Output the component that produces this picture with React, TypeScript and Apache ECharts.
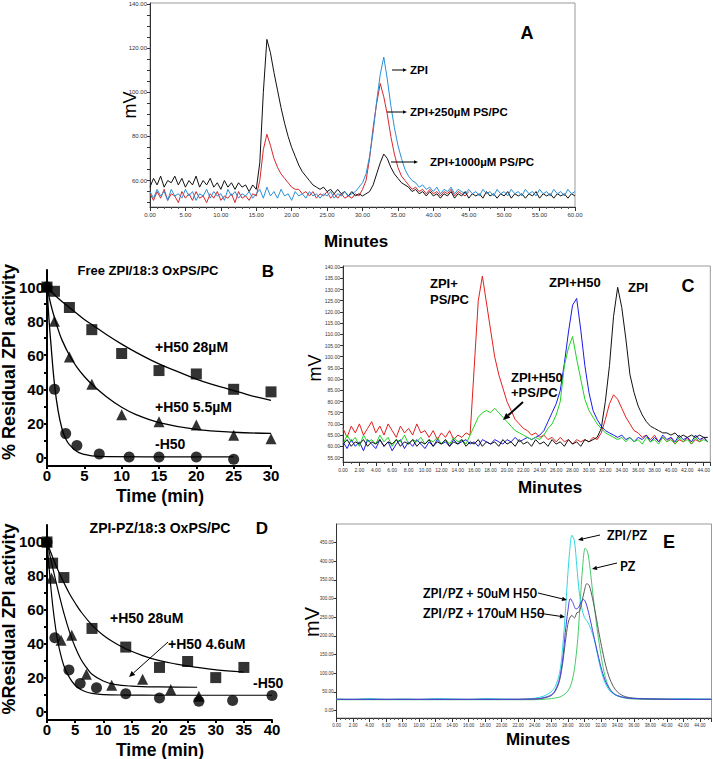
import React, { useEffect, useRef } from "react";
import * as echarts from "echarts";

// ---------- Panel A (HPLC, mV vs minutes) ----------
const A_TIME = [0,0.5,1,1.5,2,2.5,3,3.5,4,4.5,5,5.5,6,6.5,7,7.5,8,8.5,9,9.5,10,10.5,11,11.5,12,12.5,13,13.5,14,14.5,15,15.5,16,16.5,17,17.5,18,18.5,19,19.5,20,20.5,21,21.5,22,22.5,23,23.5,24,24.5,25,25.5,26,26.5,27,27.5,28,28.5,29,29.5,30,30.5,31,31.5,32,32.5,33,33.5,34,34.5,35,35.5,36,36.5,37,37.5,38,38.5,39,39.5,40,40.5,41,41.5,42,42.5,43,43.5,44,44.5,45,45.5,46,46.5,47,47.5,48,48.5,49,49.5,50,50.5,51,51.5,52,52.5,53,53.5,54,54.5,55,55.5,56,56.5,57,57.5,58,58.5,59,59.5,60];
const A_BLACK = [57,61,58,62,57,60,59,62,58,61,57,60,58,62,57,60,58,61,57,59,56,60,57,59,56,59,57,58,55,58,56,
  68,100,124,118,109,101,93,86,80,75,71,67,64,62,60,58,57,56,57,55,56,54,56,54,55,53,55,53,54,53,
  54,55,58,63,68,72,70,66,63,61,59,58,57,55,56,54,55,53,55,53,54,52,54,53,55,52,54,53,55,52,
  54,53,54,52,55,53,54,52,54,53,55,52,54,53,54,52,54,53,55,52,54,53,54,52,54,53,54,52,54,53];
const A_RED = [54,51,55,52,56,51,54,53,50,55,52,54,51,55,52,53,50,54,52,55,51,53,52,54,50,55,52,53,51,54,53,
  60,74,81,76,70,66,63,61,59,57,56,56,54,55,53,55,52,54,53,55,52,54,52,54,52,53,52,54,53,56,
  60,70,84,95,104,98,90,80,72,66,62,60,58,56,57,55,56,54,56,54,55,53,55,54,56,53,55,54,53,55];
const A_BLUE = [55,52,56,53,55,51,56,53,54,52,56,53,55,51,54,53,56,52,55,53,54,51,56,53,55,52,54,53,55,52,54,
  56,52,57,53,55,52,56,53,54,51,55,53,54,52,55,53,54,52,54,53,55,52,54,53,55,53,54,55,57,59,
  63,71,82,96,108,116,106,94,84,76,70,65,62,60,59,57,58,56,57,55,57,54,56,55,57,54,56,55,54,56,
  54,55,53,56,54,55,53,56,54,55,53,56,54,55,53,56,54,55,53,56,54,55,53,56,54,55,53,56,54,55];
const A_Y_LABELS = [60, 80, 100, 120, 140];
const A_Y_TICKS = [50,55,60,65,70,75,80,85,90,95,100,105,110,115,120,125,130,135,140];

// ---------- Panel B (Free ZPI) ----------
const B_SQ_T = [0, 1, 3, 6, 10, 15, 20, 25, 30];
const B_SQ_V = [100, 97.5, 88, 75, 61, 51, 49, 40, 38.5];
const B_TRI_T = [0, 1, 3, 6, 10, 15, 20, 25, 30];
const B_TRI_V = [100, 80, 59, 43, 25, 21, 19, 13, 11];
const B_CIR_T = [0, 1, 2.5, 4, 7, 11, 15, 20, 25];
const B_CIR_V = [100, 40, 14, 7, 2, 0.3, 0.3, 0.3, -1];
const B_FIT_SQ_T = [0, 1, 2, 3, 4, 5, 6, 8, 10, 12, 14, 16, 18, 20, 22, 24, 26, 28, 30];
const B_FIT_SQ_V = [100, 95.5, 91.5, 88, 84.5, 81, 78, 72, 66.5, 61.5, 57, 53, 49.5, 46, 43, 40.5, 38, 35.5, 33.5];
const B_FIT_TRI_T = [0, 0.5, 1, 1.5, 2, 3, 4, 5, 6, 8, 10, 12, 15, 20, 25, 30];
const B_FIT_TRI_V = [100, 90, 82, 75, 69, 60, 53, 47.5, 43, 35.5, 29.5, 25, 20.5, 16.5, 14.8, 14.2];
const B_FIT_CIR_T = [0, 0.25, 0.5, 1, 1.5, 2, 2.5, 3, 4, 5, 6, 8, 25];
const B_FIT_CIR_V = [100, 82, 68, 43, 27, 17, 11, 7.5, 3.5, 1.8, 1, 0.5, 0.3];

// ---------- Panel C (HPLC) ----------
const C_TIME = [0,0.5,1,1.5,2,2.5,3,3.5,4,4.5,5,5.5,6,6.5,7,7.5,8,8.5,9,9.5,10,10.5,11,11.5,12,12.5,13,13.5,14,14.5,15,15.5,16,16.5,17,17.5,18,18.5,19,19.5,20,20.5,21,21.5,22,22.5,23,23.5,24,24.5,25,25.5,26,26.5,27,27.5,28,28.5,29,29.5,30,30.5,31,31.5,32,32.5,33,33.5,34,34.5,35,35.5,36,36.5,37,37.5,38,38.5,39,39.5,40,40.5,41,41.5,42,42.5,43,43.5,44,44.5];
const C_RED = [68,64,69,66,70,65,68,71,66,69,65,70,67,64,69,66,68,65,70,66,67,
  64,67,63,66,64,67,63,65,64,66,65,
  95,125,136,124,112,100,92,86,80,76,72,70,68,
  67,65,66,64,65,63,64,62,64,62,63,61,63,62,63,62,64,63,
  66,72,79,83,81,77,73,70,67,
  66,64,65,63,65,62,64,62,64,61,63,62,64,61,63,62,64,62];
const C_GREEN = [61,65,62,64,60,65,62,63,61,65,62,64,60,63,62,65,61,63,62,64,61,63,62,64,61,63,61,64,62,63,61,
  65,69,73,75,76,75,77,75,73,71,69,67,66,65,64,63,64,63,65,
  68,70,74,80,96,104,109,99,90,81,76,73,70,
  68,66,65,64,63,64,62,64,62,63,61,64,62,63,61,64,62,63,61,64,62,63,61,64,62,63,62];
const C_BLUE = [62,59,63,60,62,58,63,61,59,63,60,62,58,61,63,59,62,60,63,61,59,62,60,63,61,62,60,63,61,62,63,61,62,60,63,62,61,63,62,61,63,62,64,62,63,64,63,
  64,65,67,71,75,79,85,97,111,123,126,112,96,84,76,72,69,67,66,65,
  64,65,63,64,62,64,63,65,62,64,62,65,63,64,62,65,63,64,62,65,63,64,62];
const C_BLACK = [61,63,60,62,61,63,60,62,61,63,60,62,61,63,60,62,61,63,60,62,61,63,60,62,61,63,60,62,61,63,
  60,62,61,63,60,62,61,62,60,63,61,62,60,63,61,62,60,63,61,62,60,63,61,62,60,63,61,62,60,63,62,63,64,
  68,80,96,118,131,122,108,92,84,78,74,71,69,68,67,66,66,65,66,64,65,64,65,64,65,64,64];
const C_Y_LABELS = [55,60,65,70,75,80,85,90,95,100,105,110,115,120,125,130,135,140];

// ---------- Panel D (ZPI-PZ) ----------
const D_SQ_T = [0, 1, 3, 8, 14, 20, 25, 30, 35];
const D_SQ_V = [100, 87.5, 79, 49, 38, 26, 29.5, 20, 26];
const D_TRI_T = [0, 0.8, 2.5, 4.4, 7, 11.5, 17, 22, 27];
const D_TRI_V = [100, 78.6, 42, 45, 22, 15.5, 19, 13, 9];
const D_CIR_T = [0, 1.4, 3.9, 5.9, 8.8, 14, 20, 27, 33, 40];
const D_CIR_V = [100, 43.5, 24.5, 16.5, 14, 10.5, 8, 6, 6.5, 9.5];
const D_FIT_SQ_T = [0, 1, 2, 3, 4, 5, 6, 8, 10, 12, 14, 17, 20, 23, 26, 29, 32, 35];
const D_FIT_SQ_V = [100, 91, 83, 76, 69.5, 64, 59, 51, 45, 40.5, 37, 33, 30, 28, 26.3, 25, 24, 23.3];
const D_FIT_TRI_T = [0, 1, 2, 3, 4, 5, 6, 7, 8, 10, 12, 15, 20, 26.7];
const D_FIT_TRI_V = [100, 85, 71, 58, 47, 38, 31, 26, 22, 18, 16, 15, 14.5, 14.3];
const D_FIT_CIR_T = [0, 0.5, 1, 1.5, 2, 3, 4, 5, 6, 7, 8, 10, 14, 20, 40];
const D_FIT_CIR_V = [100, 80, 63, 50, 40, 27, 20, 15.5, 13, 11.5, 10.7, 10, 9.7, 9.6, 9.6];
const BD_Y_LABELS = [0, 20, 40, 60, 80, 100];
const BD_Y_TICKS = [0, 10, 20, 30, 40, 50, 60, 70, 80, 90, 100];

// ---------- Panel E (HPLC) ----------
const E_CY_T = [0,2,4,6,8,10,12,14,16,18,20,22,23,24,25,25.5,26,26.5,27,27.3,27.6,27.9,28.2,28.5,28.8,29.1,29.4,29.7,30,30.4,30.8,31.2,31.6,32,32.5,33,33.5,34,35,36,38,40,42,44,45.4];
const E_CY_V = [31,30,32,30,31,30,32,31,30,32,31,30,31,33,38,43,50,65,100,150,230,330,420,470,455,385,315,275,250,238,218,190,150,110,75,55,45,40,35,33,32,31,32,31,31];
const E_GR_T = [0,4,8,12,16,20,24,25,26,27,27.5,28,28.4,28.8,29.2,29.5,29.8,30.1,30.4,30.7,31,31.4,31.8,32.2,32.6,33,33.5,34,35,36,38,42,45.4];
const E_GR_V = [29,29,29,29,29,29,29,30,32,36,42,52,70,110,190,290,385,435,425,380,320,245,180,125,85,62,46,39,33,31,30,30,30];
const E_BL_T = [0,4,8,12,16,20,24,25,26,26.5,27,27.4,27.7,28,28.3,28.6,29,29.3,29.6,29.9,30.2,30.6,31,31.5,32,32.5,33,33.5,34,35,36,38,42,45.4];
const E_BL_V = [30,30,30,30,30,30,31,34,42,55,85,140,210,265,300,290,272,276,290,298,288,255,215,165,118,82,60,47,40,34,32,31,30,30];
const E_GY_T = [0,4,8,12,16,20,24,25,26,26.5,27,27.4,27.8,28.1,28.5,28.8,29.1,29.4,29.7,30,30.3,30.6,31,31.4,31.8,32.2,32.6,33,33.5,34,34.5,35,36,38,42,45.4];
const E_GY_V = [30,30,30,30,30,30,31,33,40,52,80,130,200,240,255,248,262,265,290,320,340,335,300,255,205,160,120,90,65,50,42,37,33,31,30,30];
const E_Y_LABELS = [0,50,100,150,200,250,300,350,400,450];

const zip = (t: number[], v: number[]) => v.map((y, i) => [t[i], y]);
const AR = '"Liberation Sans", Arial, sans-serif';

function txt(x: number, y: number, text: string, size: number, opts: any = {}) {
  return {
    type: "text", x, y, z: 100, rotation: opts.rotation || 0,
    style: {
      text, fontSize: size, fontWeight: opts.weight || "bold",
      fontFamily: opts.family || AR, fill: "#000",
      align: opts.align || "left", verticalAlign: "middle",
    },
  };
}

function arrow(x1: number, y1: number, x2: number, y2: number, w = 1, head = 5) {
  const a = Math.atan2(y2 - y1, x2 - x1);
  const bx = x2 - head * Math.cos(a), by = y2 - head * Math.sin(a);
  const p1 = [bx + head * 0.45 * Math.sin(a), by - head * 0.45 * Math.cos(a)];
  const p2 = [bx - head * 0.45 * Math.sin(a), by + head * 0.45 * Math.cos(a)];
  return [
    { type: "line", z: 100, shape: { x1, y1, x2: bx, y2: by }, style: { stroke: "#000", lineWidth: w } },
    { type: "polygon", z: 100, shape: { points: [[x2, y2], p1, p2] }, style: { fill: "#000" } },
  ];
}

function chromX(grid: number, max: number, interval: number, fs: number, minorSplit: number, showMax: boolean) {
  return {
    type: "value", gridIndex: grid, min: 0, max, interval,
    axisLine: { onZero: false, lineStyle: { color: "#333", width: 1 } },
    axisTick: { show: true, length: 4, lineStyle: { color: "#333" } },
    minorTick: { show: true, splitNumber: minorSplit, length: 2, lineStyle: { color: "#555" } },
    axisLabel: { fontSize: fs, color: "#333", fontFamily: AR, margin: 5, showMaxLabel: showMax,
      formatter: (v: number) => v.toFixed(2) },
    splitLine: { show: false },
  };
}
function chromY(grid: number, min: number, max: number, labels: number[], fs: number) {
  return {
    type: "value", gridIndex: grid, min, max,
    axisLine: { show: true, onZero: false, lineStyle: { color: "#333", width: 1 } },
    axisTick: { show: true, length: 3, customValues: labels, lineStyle: { color: "#333" } },
    axisLabel: { fontSize: fs, color: "#333", fontFamily: AR, margin: 3, customValues: labels,
      showMaxLabel: true, formatter: (v: number) => v.toFixed(2) },
    splitLine: { show: false },
  };
}
function kinX(grid: number, max: number) {
  return {
    type: "value", gridIndex: grid, min: 0, max, interval: 5,
    axisLine: { onZero: false, lineStyle: { color: "#000", width: 2 } },
    axisTick: { show: true, length: 3, lineStyle: { color: "#000", width: 2 } },
    axisLabel: { fontSize: 15, fontWeight: "bold", color: "#000", fontFamily: AR, margin: 2 },
    splitLine: { show: false },
  };
}
function kinY(grid: number) {
  return {
    type: "value", gridIndex: grid, min: -5, max: 110,
    axisLine: { show: true, onZero: false, lineStyle: { color: "#000", width: 2 } },
    axisTick: { show: true, length: 3, customValues: BD_Y_TICKS, lineStyle: { color: "#000", width: 2 } },
    axisLabel: { fontSize: 15, fontWeight: "bold", color: "#000", fontFamily: AR, margin: 3, customValues: BD_Y_LABELS },
    splitLine: { show: false },
  };
}

const lineS = (name: string, xi: number, data: number[][], color: string, w = 1, smooth: any = false) => ({
  name, type: "line", xAxisIndex: xi, yAxisIndex: xi, data, showSymbol: false, smooth,
  lineStyle: { color, width: w }, itemStyle: { color }, silent: true,
});
const scatS = (name: string, xi: number, data: number[][], symbol: string, size = 11) => ({
  name, type: "scatter", xAxisIndex: xi, yAxisIndex: xi, data, symbol, symbolSize: size,
  itemStyle: { color: "#000" }, z: 5,
});

export default function App() {
  const ref = useRef<HTMLDivElement>(null);
  useEffect(() => {
    if (!ref.current) return;
    const chart = echarts.init(ref.current, null, { renderer: "svg" });
    const option: any = {
      animation: false,
      backgroundColor: "#fff",
      grid: [
        { left: 150, top: 3, width: 425, height: 204, show: true, borderColor: "#999", borderWidth: 1 },
        { left: 47, top: 270, width: 224, height: 196 },
        { left: 343, top: 266, width: 369, height: 196, show: true, borderColor: "#999", borderWidth: 1 },
        { left: 47, top: 525, width: 225, height: 195 },
        { left: 336.5, top: 524, width: 375, height: 194, show: true, borderColor: "#999", borderWidth: 1 },
      ],
      xAxis: [
        chromX(0, 60, 5, 6, 5, true),
        kinX(1, 30),
        chromX(2, 44.8, 2, 5, 2, false),
        kinX(3, 40),
        chromX(4, 45.4, 2, 4.5, 4, false),
      ],
      yAxis: [
        { ...chromY(0, 48, 140.5, A_Y_LABELS, 6), axisTick: { show: true, length: 3, customValues: A_Y_TICKS, lineStyle: { color: "#333" } } },
        kinY(1),
        chromY(2, 53, 140.5, C_Y_LABELS, 5),
        kinY(3),
        chromY(4, -20, 500, E_Y_LABELS, 4.5),
      ],
      series: [
        lineS("ZPI+250µM PS/PC", 0, zip(A_TIME, A_RED), "#d8262a", 1),
        lineS("ZPI+1000µM PS/PC", 0, zip(A_TIME, A_BLACK), "#111111", 1),
        lineS("ZPI", 0, zip(A_TIME, A_BLUE), "#2a8fd6", 1),

        lineS("fit 28µM", 1, zip(B_FIT_SQ_T, B_FIT_SQ_V), "#000", 1.3, 0.4),
        lineS("fit 5.5µM", 1, zip(B_FIT_TRI_T, B_FIT_TRI_V), "#000", 1.3, 0.4),
        lineS("fit -H50", 1, zip(B_FIT_CIR_T, B_FIT_CIR_V), "#000", 1.3, 0.4),
        scatS("+H50 28µM", 1, zip(B_SQ_T, B_SQ_V), "rect", 11),
        scatS("+H50 5.5µM", 1, zip(B_TRI_T, B_TRI_V), "triangle", 11),
        scatS("-H50", 1, zip(B_CIR_T, B_CIR_V), "circle", 11),

        lineS("ZPI+PS/PC", 2, zip(C_TIME, C_RED), "#e0201e", 1),
        lineS("ZPI+H50", 2, zip(C_TIME, C_BLUE), "#1a1ae6", 1),
        lineS("ZPI+H50+PS/PC", 2, zip(C_TIME, C_GREEN), "#1fd21f", 1),
        lineS("ZPI C", 2, zip(C_TIME, C_BLACK), "#111111", 1),

        lineS("fit D 28uM", 3, zip(D_FIT_SQ_T, D_FIT_SQ_V), "#000", 1.2, 0.4),
        lineS("fit D 4.6uM", 3, zip(D_FIT_TRI_T, D_FIT_TRI_V), "#000", 1.2, 0.4),
        lineS("fit D -H50", 3, zip(D_FIT_CIR_T, D_FIT_CIR_V), "#000", 1.2, 0.4),
        scatS("+H50 28uM", 3, zip(D_SQ_T, D_SQ_V), "rect", 11),
        scatS("+H50 4.6uM", 3, zip(D_TRI_T, D_TRI_V), "triangle", 11),
        scatS("-H50 D", 3, zip(D_CIR_T, D_CIR_V), "circle", 11),

        lineS("PZ", 4, zip(E_GR_T, E_GR_V), "#45c96a", 1, 0.3),
        lineS("ZPI/PZ", 4, zip(E_CY_T, E_CY_V), "#30d6df", 1, 0.3),
        lineS("ZPI/PZ + 170uM H50", 4, zip(E_GY_T, E_GY_V), "#5a5a5a", 1, 0.3),
        lineS("ZPI/PZ + 50uM H50", 4, zip(E_BL_T, E_BL_V), "#4b3fe0", 1, 0.3),
      ],
      graphic: [
        // Panel A
        txt(130, 105, "mV", 18, { weight: "normal", rotation: Math.PI / 2, align: "center" }),
        txt(356, 241, "Minutes", 17, { align: "center" }),
        txt(527, 33, "A", 18, { align: "center" }),
        txt(410, 70, "ZPI", 11.5),
        txt(410, 112, "ZPI+250µM PS/PC", 11.5),
        txt(430, 162, "ZPI+1000µM PS/PC", 11.5),
        ...arrow(392, 70, 407, 70, 1, 4),
        ...arrow(387, 112, 407, 112, 1, 4),
        ...arrow(391, 162, 418, 162, 1, 4),
        // Panel B
        txt(9, 362, "% Residual ZPI activity", 18, { rotation: Math.PI / 2, align: "center" }),
        txt(160, 496, "Time (min)", 17.5, { align: "center" }),
        txt(148, 270, "Free ZPI/18:3 OxPS/PC", 13, { align: "center" }),
        txt(268, 271, "B", 17, { align: "center" }),
        txt(155, 347, "+H50 28µM", 14),
        txt(155, 407, "+H50 5.5µM", 14),
        txt(155, 444, "-H50", 14),
        // Panel C
        txt(315, 368, "mV", 18, { weight: "normal", rotation: Math.PI / 2, align: "center" }),
        txt(550, 487, "Minutes", 17, { align: "center" }),
        txt(688, 286, "C", 18, { align: "center" }),
        txt(430, 283, "ZPI+", 13),
        txt(430, 299, "PS/PC", 13),
        txt(549, 282, "ZPI+H50", 13),
        txt(628, 287, "ZPI", 13),
        txt(511, 377, "ZPI+H50", 13),
        txt(511, 392, "+PS/PC", 13),
        ...arrow(523, 402, 503, 420, 2, 7),
        // Panel D
        txt(9, 619, "%Residual ZPI activity", 18, { rotation: Math.PI / 2, align: "center" }),
        txt(160, 750, "Time (min)", 17.5, { align: "center" }),
        txt(160, 528, "ZPI-PZ/18:3 OxPS/PC", 14, { align: "center" }),
        txt(262, 528, "D", 17, { align: "center" }),
        txt(110, 618, "+H50 28uM", 14),
        txt(168, 644, "+H50 4.6uM", 14),
        txt(253, 683, "-H50", 14),
        ...arrow(168, 642, 129, 677, 1, 6),
        // Panel E
        txt(312, 622, "mV", 20, { weight: "normal", rotation: Math.PI / 2, align: "center" }),
        txt(538, 739, "Minutes", 17, { align: "center" }),
        txt(669, 542, "E", 18, { align: "center" }),
        txt(607, 535, "ZPI/PZ", 12.5, { family: "Lato, sans-serif" }),
        txt(620, 566, "PZ", 12.5, { family: "Lato, sans-serif" }),
        txt(423, 593, "ZPI/PZ + 50uM H50", 12.5, { family: "Lato, sans-serif" }),
        txt(423, 613, "ZPI/PZ + 170uM H50", 12.5, { family: "Lato, sans-serif" }),
        ...arrow(600, 535, 578, 540, 1, 5),
        ...arrow(617, 563, 592, 569, 1, 5),
        ...arrow(538, 593, 567, 600, 1, 5),
        ...arrow(538, 613, 565, 617, 1, 5),
      ],
    };
    chart.setOption(option);
    return () => chart.dispose();
  }, []);
  return <div ref={ref} style={{ position: "absolute", left: 0, top: 0, width: 713, height: 759 }} />;
}
